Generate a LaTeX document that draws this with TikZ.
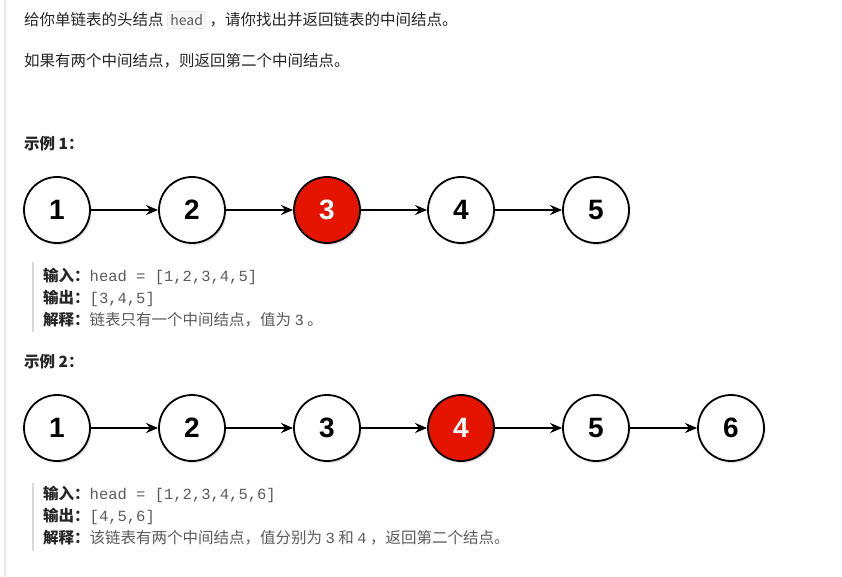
\documentclass[tikz,border=0pt]{standalone}
\usepackage{fontspec}
\setmainfont{Noto Sans CJK SC}
\newfontfamily\arialb{Liberation Sans}[BoldFont=* Bold]
\newfontfamily\codef{Liberation Mono}
\usetikzlibrary{arrows.meta,shadows}
\definecolor{txt}{HTML}{262626}
\definecolor{codegray}{HTML}{5C5C5C}
\definecolor{nodered}{HTML}{E51400}
\tikzset{
 x=1pt,y=-1pt,
 ll/.style={circle,draw=black,line width=1.8pt,minimum size=66pt,inner sep=0pt,fill=white,font=\arialb\bfseries\fontsize{28}{28}\selectfont,drop shadow={shadow xshift=1.5pt,shadow yshift=-2pt,opacity=0.25}},
 hl/.style={ll,fill=nodered,text=white},
 link/.style={-{Stealth[length=12pt,width=10pt]},line width=1.6pt},
 para/.style={anchor=west,inner sep=0pt,text=txt,font=\fontsize{15.5}{15.5}\selectfont},
 bold/.style={para,font=\fontsize{15.5}{15.5}\selectfont\bfseries},
 bar/.style={draw=black!15,line width=2pt},
}
\newcommand\cd[1]{{\codef\fontsize{15.5}{15.5}\selectfont\color{codegray}#1}}
\begin{document}
\begin{tikzpicture}
\useasboundingbox[fill=white] (0,0) rectangle (842,577);
\draw[black!8,line width=2pt] (5,0) -- (5,577);
\node[para] (t1) at (24,20) {给你单链表的头结点 \tikz[baseline=(h.base)]\node[draw=black!12,fill=black!4,rounded corners=3pt,inner sep=3pt,font=\fontsize{14}{14}\selectfont,text=codegray](h){head}; ，请你找出并返回链表的中间结点。};
\node[para] (t2) at (24,61) {如果有两个中间结点，则返回第二个中间结点。};
\node[bold] (e1) at (24,144) {示例 1：};
\foreach \i/\x in {1/57,2/192,3/327,4/461,5/596}{
  \ifnum\i=3 \node[hl] (a\i) at (\x,210) {\i};\else\node[ll] (a\i) at (\x,210) {\i};\fi}
\foreach \i/\j in {1/2,2/3,3/4,4/5} \draw[link] (a\i) -- (a\j);
\draw[bar] (33,262) -- (33,332);
\node[para] (o1) at (43,276) {\textbf{输入：}\cd{head = [1,2,3,4,5]}};
\node[para] (o2) at (43,298) {\textbf{输出：}\cd{[3,4,5]}};
\node[para] (o3) at (43,320) {\textbf{解释：}{\color{codegray}链表只有一个中间结点，值为\ \cd{3}\ 。}};
\node[bold] (e2) at (24,362) {示例 2：};
\foreach \i/\x in {1/57,2/192,3/327,4/461,5/596,6/731}{
  \ifnum\i=4 \node[hl] (b\i) at (\x,428) {\i};\else\node[ll] (b\i) at (\x,428) {\i};\fi}
\foreach \i/\j in {1/2,2/3,3/4,4/5,5/6} \draw[link] (b\i) -- (b\j);
\draw[bar] (33,483) -- (33,551);
\node[para] (p1) at (43,494) {\textbf{输入：}\cd{head = [1,2,3,4,5,6]}};
\node[para] (p2) at (43,516) {\textbf{输出：}\cd{[4,5,6]}};
\node[para] (p3) at (43,538) {\textbf{解释：}{\color{codegray}该链表有两个中间结点，值分别为\ \cd{3}\ 和\ \cd{4}\ ，返回第二个结点。}};
\end{tikzpicture}
\end{document}
